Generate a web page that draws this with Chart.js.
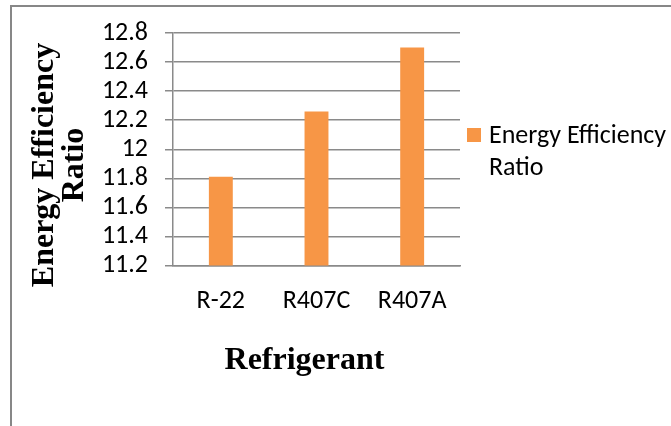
<!DOCTYPE html>
<html>
<head>
<meta charset="utf-8">
<title>Energy Efficiency Ratio by Refrigerant</title>
<script src="https://cdn.jsdelivr.net/npm/chart.js@4/dist/chart.umd.min.js"></script>
<style>
  html, body { margin: 0; padding: 0; background: #ffffff; }
  #wrap { position: relative; width: 671px; height: 426px; }
</style>
</head>
<body>
<div id="wrap"><canvas id="chart" width="671" height="426"></canvas></div>
<script>
// Data
const categories = ['R-22', 'R407C', 'R407A'];
const eerValues = [11.81, 12.26, 12.70];
const yTickValues = [11.2, 11.4, 11.6, 11.8, 12.0, 12.2, 12.4, 12.6, 12.8];
const seriesLabelLines = ['Energy Efficiency', 'Ratio'];
const xTitleText = 'Refrigerant';
const yTitleLines = ['Energy Efficiency', 'Ratio'];

const BAR_COLOR = '#F79646';
const GRID_COLOR = '#8a8a8a';
const SANS = 'Carlito, Lato, "Liberation Sans", sans-serif';
const SERIF = '"Liberation Serif", "Times New Roman", serif';

// Outer frame, axis titles and the wrapped legend entry
const decorations = {
  id: 'decorations',
  beforeDraw(chart) {
    const ctx = chart.ctx;
    ctx.save();
    ctx.strokeStyle = '#878787';
    ctx.lineWidth = 2;
    ctx.strokeRect(11, 6, 700, 460);
    ctx.restore();
  },
  afterDraw(chart) {
    const ctx = chart.ctx;
    const area = chart.chartArea;
    ctx.save();
    ctx.fillStyle = '#000000';

    // y axis title, two rotated lines
    ctx.font = 'bold 32px ' + SERIF;
    ctx.textAlign = 'center';
    ctx.textBaseline = 'alphabetic';
    ctx.save();
    ctx.translate(53, area.top + 132);
    ctx.rotate(-Math.PI / 2);
    ctx.fillText(yTitleLines[0], 0, 0);
    ctx.fillText(yTitleLines[1], 0, 30);
    ctx.restore();

    // x axis title
    ctx.fillText(xTitleText, (area.left + area.right) / 2 - 12, 369);

    // legend
    ctx.fillStyle = BAR_COLOR;
    ctx.fillRect(area.right + 7, 128, 14, 14);
    ctx.fillStyle = '#000000';
    ctx.font = '26px ' + SANS;
    ctx.textAlign = 'left';
    ctx.fillText(seriesLabelLines[0], area.right + 29, 143);
    ctx.fillText(seriesLabelLines[1], area.right + 29, 175);
    ctx.restore();
  }
};

new Chart(document.getElementById('chart'), {
  type: 'bar',
  data: {
    labels: categories,
    datasets: [{
      label: seriesLabelLines.join(' '),
      data: eerValues,
      backgroundColor: BAR_COLOR,
      borderWidth: 0,
      categoryPercentage: 1.0,
      barPercentage: 0.25
    }]
  },
  options: {
    responsive: false,
    animation: false,
    devicePixelRatio: 1,
    layout: { padding: { top: 33, right: 211, bottom: 0, left: 0 } },
    plugins: {
      legend: { display: false },
      tooltip: { enabled: false },
      title: { display: false }
    },
    scales: {
      x: {
        grid: { display: false, drawTicks: false },
        border: { display: true, color: GRID_COLOR, width: 1.5 },
        ticks: {
          color: '#000000',
          font: { family: SANS, size: 26 },
          padding: 20,
          maxRotation: 0
        },
        afterFit(scale) { scale.height = 160.5; }
      },
      y: {
        min: 11.2,
        max: 12.8,
        afterBuildTicks(scale) {
          scale.ticks = yTickValues.map(v => ({ value: v }));
        },
        grid: {
          color: GRID_COLOR,
          lineWidth: 1.5,
          tickLength: 8,
          drawTicks: true
        },
        border: { display: true, color: GRID_COLOR, width: 1.5 },
        ticks: {
          color: '#000000',
          font: { family: SANS, size: 26 },
          padding: 17,
          autoSkip: false,
          callback: v => String(Number(Number(v).toFixed(1)))
        },
        afterFit(scale) { scale.width = 173; }
      }
    }
  },
  plugins: [decorations]
});
</script>
</body>
</html>
